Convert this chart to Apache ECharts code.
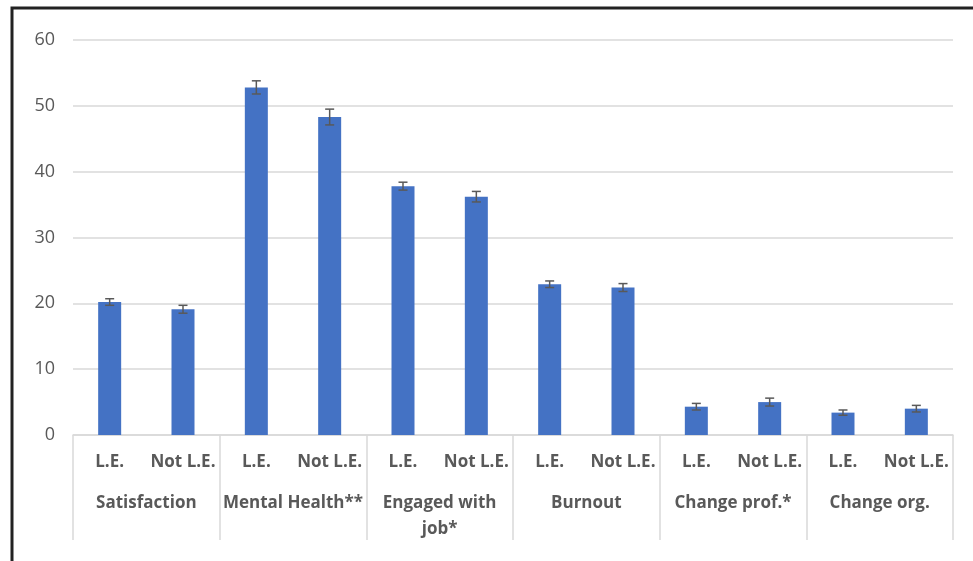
<!DOCTYPE html>
<html>
<head>
<meta charset="utf-8">
<script src="https://cdn.jsdelivr.net/npm/echarts@6/dist/echarts.min.js"></script>
<style>
html,body{margin:0;padding:0;background:#fff;}
#chart{width:973px;height:561px;}
</style>
</head>
<body>
<div id="chart"></div>
<script>
// ---- data ----
const subCategories = ['L.E.','Not L.E.','L.E.','Not L.E.','L.E.','Not L.E.','L.E.','Not L.E.','L.E.','Not L.E.','L.E.','Not L.E.'];
const groupCategories = ['Satisfaction','Mental Health**','Engaged with\njob*','Burnout','Change prof.*','Change org.'];
const values = [20.2, 19.1, 52.8, 48.3, 37.8, 36.2, 22.9, 22.4, 4.3, 5.0, 3.4, 4.0];
const errors = [0.5, 0.6, 1.0, 1.2, 0.6, 0.8, 0.5, 0.6, 0.5, 0.6, 0.4, 0.5];
const yTicks = [0, 10, 20, 30, 40, 50, 60];

const textColor = '#595959';
const gridColor = '#d9d9d9';
const fontFam = '"Open Sans", "Noto Sans", sans-serif';

const chart = echarts.init(document.getElementById('chart'), null, {renderer:'canvas'});

const errData = values.map((v, i) => [i, v, errors[i]]);

chart.setOption({
  animation: false,
  backgroundColor: '#fff',
  grid: {left: 73, right: 20, top: 40, bottom: 126, containLabel: false},
  graphic: [{
    type: 'rect',
    shape: {x: 12, y: 8, width: 1000, height: 600},
    style: {fill: 'none', stroke: '#222', lineWidth: 3},
    silent: true
  }],
  xAxis: [{
    type: 'category',
    data: subCategories,
    position: 'bottom',
    boundaryGap: true,
    axisLine: {show: true, lineStyle: {color: gridColor, width: 1.5}},
    axisTick: {show: false},
    axisLabel: {interval: 0, color: textColor, fontFamily: fontFam, fontWeight: 'bold', fontSize: 17, margin: 19}
  }, {
    type: 'category',
    data: groupCategories,
    position: 'bottom',
    offset: 0,
    boundaryGap: true,
    axisLine: {show: false},
    axisTick: {show: true, length: 105, interval: 0, lineStyle: {color: gridColor, width: 1.5}},
    axisLabel: {interval: 0, color: textColor, fontFamily: fontFam, fontWeight: 'bold', fontSize: 17, margin: 55, lineHeight: 26}
  }],
  yAxis: {
    type: 'value',
    min: yTicks[0],
    max: yTicks[yTicks.length - 1],
    interval: 10,
    axisLine: {show: false},
    axisTick: {show: false},
    splitLine: {lineStyle: {color: gridColor, width: 1.5}},
    axisLabel: {color: textColor, fontFamily: fontFam, fontSize: 18, margin: 18}
  },
  series: [{
    type: 'bar',
    xAxisIndex: 0,
    data: values,
    barWidth: 23,
    itemStyle: {color: '#4472C4'}
  }, {
    type: 'custom',
    xAxisIndex: 0,
    data: errData,
    encode: {x: 0, y: 1},
    z: 10,
    renderItem: function (params, api) {
      const x = api.value(0), v = api.value(1), e = api.value(2);
      const top = api.coord([x, v + e]);
      const bot = api.coord([x, v - e]);
      const hw = 4.5;
      const st = {stroke: '#595959', lineWidth: 1.5};
      return {
        type: 'group',
        children: [
          {type: 'line', shape: {x1: top[0], y1: top[1], x2: bot[0], y2: bot[1]}, style: st},
          {type: 'line', shape: {x1: top[0] - hw, y1: top[1], x2: top[0] + hw, y2: top[1]}, style: st},
          {type: 'line', shape: {x1: bot[0] - hw, y1: bot[1], x2: bot[0] + hw, y2: bot[1]}, style: st}
        ]
      };
    }
  }]
});
</script>
</body>
</html>
